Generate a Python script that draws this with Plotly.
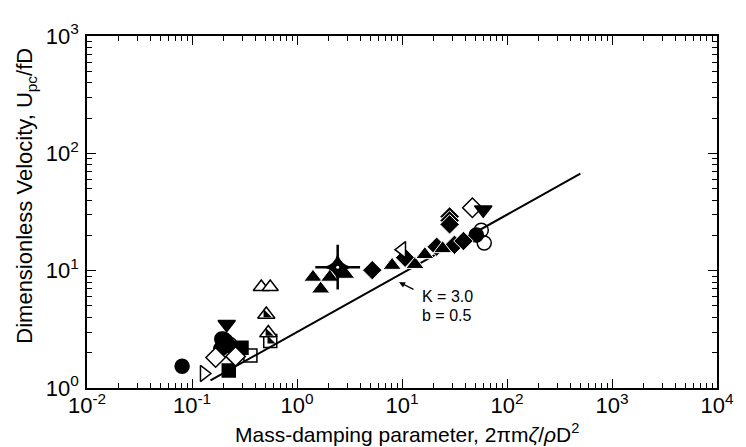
import math
import plotly.graph_objects as go

# ---- data ----
fit_x = [0.15, 500]
K, b = 3.0, 0.5

filled_circle_x = [0.0805, 0.21, 0.192, 0.224, 0.188, 51.0]
filled_circle_y = [1.53, 2.52, 2.62, 2.29, 2.16, 20.1]
open_circle_x = [0.20, 0.23, 56.9, 60.7]
open_circle_y = [2.60, 2.35, 22.1, 17.2]
filled_square_x = [0.224, 0.296]
filled_square_y = [1.41, 2.2]
open_square_x = [0.36]
open_square_y = [1.89]
half_square_x = [0.556]
half_square_y = [2.52]
open_diamond_x = [0.168, 0.26, 46.8]
open_diamond_y = [1.82, 1.86, 34.4]
filled_diamond_x = [5.21, 10.7, 21.4, 31.6, 38.5, 28.4, 28.4, 28.4]
filled_diamond_y = [10.1, 12.9, 16.0, 16.6, 17.9, 29.0, 26.8, 24.8]
open_tri_right_x = [0.13]
open_tri_right_y = [1.33]
open_tri_left_x = [10.0]
open_tri_left_y = [15.1]
filled_tri_down_x = [0.214, 59.4]
filled_tri_down_y = [3.49, 33.1]
half_tri_x = [0.51, 0.533]
half_tri_y = [4.23, 2.94]
open_tri_up_x = [0.457, 0.556]
open_tri_up_y = [7.25, 7.25]
filled_tri_up_x = [1.42, 1.68, 2.05, 2.9, 8.05, 13.3, 16.5, 24.4]
filled_tri_up_y = [8.79, 6.98, 8.79, 9.31, 11.1, 11.3, 13.7, 15.4]
star_x = [2.44]
star_y = [10.7]

x_tickvals = [0.01, 0.1, 1, 10, 100, 1000, 10000]
x_ticktext = ["10<sup>-2</sup>", "10<sup>-1</sup>", "10<sup>0</sup>", "10<sup>1</sup>",
              "10<sup>2</sup>", "10<sup>3</sup>", "10<sup>4</sup>"]
y_tickvals = [1, 10, 100, 1000]
y_ticktext = ["10<sup>0</sup>", "10<sup>1</sup>", "10<sup>2</sup>", "10<sup>3</sup>"]

x_minor = [m * 10.0 ** e for e in range(-2, 4) for m in range(2, 10)]
y_minor = [m * 10.0 ** e for e in range(0, 3) for m in range(2, 10)]

x_title = "Mass-damping parameter, 2πm<i>ζ</i>/<i>ρ</i>D<sup>2</sup>"
y_title = "Dimensionless Velocity, U<sub>pc</sub>/fD"
fit_labels = ["K = 3.0", "b = 0.5"]

FONT = "Liberation Sans, Arial, Helvetica, sans-serif"
fig = go.Figure()

fit_y = [K * v ** b for v in fit_x]
fig.add_trace(go.Scatter(x=fit_x, y=fit_y, mode="lines",
                         line=dict(color="black", width=2)))

def add(xs, ys, symbol, size=14, color="black", lw=1.5, lc="black"):
    fig.add_trace(go.Scatter(x=xs, y=ys, mode="markers",
                             marker=dict(symbol=symbol, size=size, color=color,
                                         line=dict(color=lc, width=lw))))

add(filled_circle_x, filled_circle_y, "circle", 14)
add(open_circle_x, open_circle_y, "circle-open", 14, lw=1.5)
add(filled_square_x, filled_square_y, "square", 13)
add(open_square_x, open_square_y, "square-open", 13, lw=1.5)
add(half_square_x, half_square_y, "square-open", 13, lw=1.5)
add(half_square_x, half_square_y, "triangle-sw", 9, lw=0)
add(open_diamond_x, open_diamond_y, "diamond", 15, color="white", lw=1.5)
add(filled_diamond_x, filled_diamond_y, "diamond", 15, lw=1, lc="white")
add(open_tri_right_x, open_tri_right_y, "triangle-right", 14, color="white", lw=1.5)
add(open_tri_left_x, open_tri_left_y, "triangle-left", 14, color="white", lw=1.5)
add(filled_tri_down_x, filled_tri_down_y, "triangle-down", 15)
add(half_tri_x, half_tri_y, "triangle-up", 15, color="white", lw=1.5)
add(half_tri_x, half_tri_y, "triangle-sw", 9, lw=0)
add(open_tri_up_x, open_tri_up_y, "triangle-up", 14, color="white", lw=1.5)
add(filled_tri_up_x, filled_tri_up_y, "triangle-up", 16, lw=1, lc="white")
add(star_x, star_y, "cross-thin", 32, lw=2.5)
add(star_x, star_y, "star-diamond", 20, lw=0)
add(star_x, star_y, "circle", 3, color="white", lw=0)

# annotation: arrow + label
fig.add_annotation(x=math.log10(9.37), y=math.log10(7.98), ax=16, ay=8,
                   xref="x", yref="y", text="", showarrow=True,
                   arrowhead=2, arrowsize=1, arrowwidth=1.2, arrowcolor="black")
for lbl, ly in zip(fit_labels, [0.777, 0.619]):
    fig.add_annotation(x=1.17, y=ly, xref="x", yref="y", xanchor="left", yanchor="middle",
                       text=lbl, showarrow=False,
                       font=dict(family=FONT, size=16, color="black"))

# axis titles (placed as text annotations)
fig.add_annotation(x=-0.097, y=0.546, xref="paper", yref="paper",
                   xanchor="center", yanchor="middle", textangle=-90,
                   text=y_title, showarrow=False,
                   font=dict(family=FONT, size=22, color="black"))
fig.add_annotation(x=0.508, y=-0.127, xref="paper", yref="paper",
                   xanchor="center", yanchor="middle",
                   text=x_title, showarrow=False,
                   font=dict(family=FONT, size=21, color="black"))

axis_common = dict(type="log", showgrid=False, zeroline=False, showline=True,
                   linecolor="black", linewidth=1.5, mirror="allticks",
                   ticks="inside", ticklen=9, tickwidth=1, tickcolor="black",
                   tickfont=dict(family=FONT, size=22, color="black"))

# the page body adds an 8 px margin, so the figure is sized/offset to compensate
fig.update_layout(
    width=738, height=439, showlegend=False,
    paper_bgcolor="white", plot_bgcolor="white",
    margin=dict(l=79, r=23, t=21, b=59),
    xaxis=dict(axis_common, range=[-2, 4], tickvals=x_tickvals, ticktext=x_ticktext,
               ticklabelstandoff=-3,
               minor=dict(tickmode="array", tickvals=x_minor, ticks="inside", ticklen=5,
                          tickwidth=1, tickcolor="black", showgrid=False)),
    yaxis=dict(axis_common, range=[0, 3], tickvals=y_tickvals, ticktext=y_ticktext,
               ticklabelstandoff=2,
               minor=dict(tickmode="array", tickvals=y_minor, ticks="inside", ticklen=5,
                          tickwidth=1, tickcolor="black", showgrid=False)),
)

fig.write_html("out.html")
